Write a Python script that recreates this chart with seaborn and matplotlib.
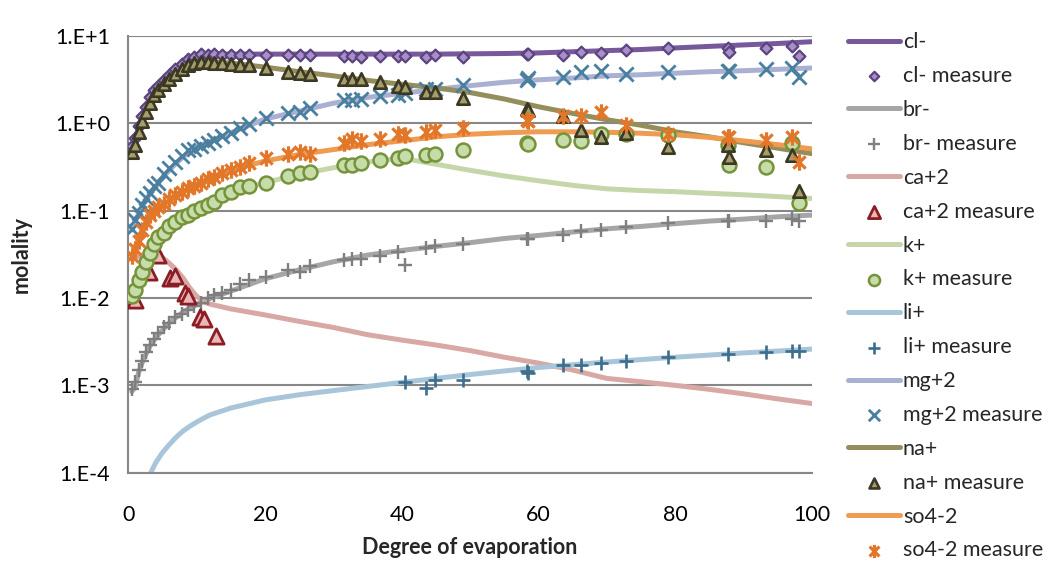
import numpy as np
import matplotlib
matplotlib.use("Agg")
import matplotlib.pyplot as plt
from matplotlib.path import Path
from matplotlib.ticker import FixedLocator, FuncFormatter, NullLocator
import seaborn as sns

# ---------------------------------------------------------------------------
# Model curves (molality vs. degree of evaporation), shared x grid
# ---------------------------------------------------------------------------
model_x = [0.5, 1, 1.5, 2, 3, 4, 5, 6, 7, 8, 9, 10, 11, 12, 15, 20, 25, 30,
           35, 40, 45, 50, 55, 60, 65, 70, 75, 80, 85, 90, 95, 100]

cl_model = [0.52, 0.65, 0.9, 1.2, 1.8, 2.5, 3.0, 3.6, 4.2, 4.9, 5.5, 6.0, 6.2, 6.2,
            6.2, 6.2, 6.2, 6.2, 6.2, 6.2, 6.2, 6.25, 6.3, 6.4, 6.6, 6.8, 7.0, 7.3,
            7.6, 7.9, 8.2, 8.6]
br_model = [8.5e-4, 9.5e-4, 1.4e-3, 1.8e-3, 2.7e-3, 3.5e-3, 4.3e-3, 5.2e-3, 6.0e-3,
            6.9e-3, 7.7e-3, 8.4e-3, 9.2e-3, 9.9e-3, 0.012, 0.0166, 0.021, 0.026,
            0.031, 0.035, 0.039, 0.043, 0.048, 0.052, 0.057, 0.062, 0.066, 0.071,
            0.076, 0.080, 0.085, 0.089]
ca_model = [0.028, 0.029, 0.030, 0.031, 0.032, 0.032, 0.029, 0.025, 0.021, 0.017,
            0.013, 0.0105, 0.009, 0.0085, 0.0075, 0.0064, 0.0054, 0.0046, 0.0038,
            0.0033, 0.0029, 0.0025, 0.0021, 0.0018, 0.0015, 0.0012, 0.0011, 0.0010,
            0.0009, 0.0008, 0.0007, 0.00062]
k_model = [0.0105, 0.013, 0.016, 0.020, 0.030, 0.043, 0.054, 0.065, 0.075, 0.085,
           0.095, 0.105, 0.115, 0.128, 0.16, 0.21, 0.26, 0.31, 0.36, 0.40, 0.34,
           0.29, 0.25, 0.22, 0.195, 0.178, 0.17, 0.165, 0.158, 0.152, 0.145, 0.138]
li_model = [np.nan, np.nan, np.nan, np.nan, 9e-5, 1.3e-4, 1.7e-4, 2.1e-4, 2.55e-4,
            3.0e-4, 3.4e-4, 3.8e-4, 4.2e-4, 4.6e-4, 5.5e-4, 6.8e-4, 7.8e-4, 8.7e-4,
            9.7e-4, 1.08e-3, 1.2e-3, 1.33e-3, 1.46e-3, 1.6e-3, 1.72e-3, 1.85e-3,
            1.97e-3, 2.1e-3, 2.22e-3, 2.35e-3, 2.47e-3, 2.6e-3]
mg_model = [0.06, 0.075, 0.092, 0.11, 0.15, 0.19, 0.24, 0.29, 0.35, 0.41, 0.48, 0.53,
            0.58, 0.62, 0.78, 1.12, 1.38, 1.7, 1.98, 2.2, 2.45, 2.7, 2.95, 3.15, 3.3,
            3.5, 3.6, 3.75, 3.9, 4.0, 4.15, 4.3]
na_model = [0.47, 0.6, 0.82, 1.05, 1.6, 2.2, 2.7, 3.2, 3.8, 4.3, 4.7, 5.0, 5.1, 5.1,
            4.9, 4.4, 3.9, 3.5, 3.1, 2.8, 2.55, 2.25, 1.9, 1.55, 1.3, 1.1, 0.95, 0.8,
            0.7, 0.6, 0.52, 0.45]
so4_model = [0.030, 0.038, 0.048, 0.060, 0.082, 0.100, 0.115, 0.13, 0.145, 0.165,
             0.18, 0.20, 0.22, 0.24, 0.29, 0.37, 0.44, 0.50, 0.57, 0.63, 0.70, 0.75,
             0.78, 0.80, 0.80, 0.79, 0.77, 0.74, 0.69, 0.63, 0.57, 0.51]

# ---------------------------------------------------------------------------
# Measured samples
# ---------------------------------------------------------------------------
meas_x = [0.5, 1.0, 1.5, 2.0, 2.6, 3.2, 3.8, 4.4, 5.2, 6.0, 6.9, 7.8, 8.7, 9.6,
          10.6, 11.6, 12.6, 13.7, 15.0, 16.4, 17.6, 20.2, 23.4, 25.1, 26.6,
          31.5, 32.8, 34.0, 36.8, 39.5, 40.5, 43.6, 44.9, 48.9, 58.3, 58.5, 63.6,
          66.2, 69.2, 72.8, 78.9, 87.7, 87.9, 93.3, 97.1, 98.2]

cl_meas = [0.55, 0.68, 0.92, 1.2, 1.55, 2.0, 2.4, 2.7, 3.1, 3.6, 4.2, 4.8, 5.4, 5.8,
           6.2, 6.1, 6.2, 6.1, 6.0, 6.0, 6.0, 6.0, 6.1, 6.0, 6.0,
           5.9, 5.9, 5.8, 5.9, 5.9, 5.9, 5.8, 6.1, 5.8, 6.3, 6.2, 6.1, 6.6, 6.4,
           7.0, 7.2, 7.2, 6.6, 7.2, 7.7, 5.9]
br_meas = [9e-4, 1.1e-3, 1.5e-3, 1.9e-3, 2.4e-3, 2.9e-3, 3.4e-3, 4.0e-3, 4.6e-3,
           5.2e-3, 6.1e-3, 6.6e-3, 7.2e-3, 8.0e-3, 8.8e-3, 9.9e-3, 0.0107, 0.0115,
           0.0125, 0.0145, 0.016, 0.0173, 0.021, 0.020, 0.023,
           0.027, 0.028, 0.028, 0.030, 0.034, 0.024, 0.037, 0.039, 0.041, 0.048,
           0.048, 0.052, 0.058, 0.060, 0.065, 0.072, 0.077, 0.077, 0.077, 0.081,
           0.077]
k_meas = [0.0105, 0.0125, 0.016, 0.020, 0.026, 0.033, 0.042, 0.050, 0.056, 0.066,
          0.075, 0.085, 0.090, 0.100, 0.107, 0.115, 0.125, 0.150, 0.165, 0.185,
          0.19, 0.205, 0.25, 0.27, 0.28,
          0.33, 0.33, 0.35, 0.38, 0.40, 0.42, 0.43, 0.45, 0.49, 0.59, 0.58, 0.64,
          0.62, 0.76, 0.76, 0.73, 0.56, 0.33, 0.32, 0.59, 0.123]
mg_meas = [0.062, 0.078, 0.095, 0.115, 0.14, 0.16, 0.19, 0.21, 0.26, 0.31, 0.36,
           0.42, 0.49, 0.51, 0.55, 0.60, 0.64, 0.72, 0.78, 0.88, 0.98, 1.15, 1.3,
           1.35, 1.48,
           1.85, 1.85, 1.9, 2.05, 2.1, 2.2, 2.5, 2.5, 2.75, 3.1, 3.3, 3.4, 3.9, 4.0,
           3.7, 3.9, 4.0, 4.0, 4.15, 4.3, 3.4]
na_meas = [0.47, 0.57, 0.8, 1.05, 1.35, 1.7, 2.1, 2.4, 2.8, 3.2, 3.7, 4.2, 4.6, 4.9,
           5.1, 5.0, 4.9, 4.9, 4.8, 4.7, 4.6, 4.3, 3.9, 3.8, 3.7,
           3.2, 3.2, 3.2, 3.0, 2.7, 2.6, 2.3, 2.3, 1.94, 1.46, 1.42, 1.2, 0.84, 0.70,
           0.77, 0.54, 0.56, 0.41, 0.49, 0.43, 0.166]
so4_meas = [0.030, 0.036, 0.045, 0.060, 0.075, 0.090, 0.100, 0.110, 0.120, 0.135,
            0.150, 0.165, 0.180, 0.190, 0.21, 0.23, 0.245, 0.27, 0.29, 0.32, 0.35,
            0.40, 0.45, 0.47, 0.45,
            0.59, 0.67, 0.62, 0.67, 0.76, 0.73, 0.80, 0.84, 0.89, 1.1, 1.05, 1.2,
            1.2, 1.36, 0.96, 0.76, 0.70, 0.70, 0.64, 0.70, 0.36]

ca_meas_x = [1.0, 3.0, 4.4, 6.1, 6.8, 8.3, 8.8, 10.5, 11.0, 12.9]
ca_meas = [0.0096, 0.020, 0.031, 0.017, 0.0178, 0.0115, 0.0105, 0.0061, 0.0057,
           0.0037]
li_meas_x = [40.5, 43.6, 44.9, 48.9, 58.3, 58.5, 63.6, 66.2, 69.2, 72.8, 78.9, 87.8,
             93.3, 97.1, 98.2]
li_meas = [1.1e-3, 9.4e-4, 1.16e-3, 1.16e-3, 1.47e-3, 1.4e-3, 1.7e-3, 1.72e-3,
           1.8e-3, 1.9e-3, 2.1e-3, 2.3e-3, 2.4e-3, 2.5e-3, 2.5e-3]

y_ticks = [1e-4, 1e-3, 1e-2, 1e-1, 1e0, 1e1]
y_tick_labels = ["1.E-4", "1.E-3", "1.E-2", "1.E-1", "1.E+0", "1.E+1"]
x_ticks = [0, 20, 40, 60, 80, 100]

# ---------------------------------------------------------------------------
# Style
# ---------------------------------------------------------------------------
sns.set_style("white")
plt.rcParams["font.family"] = ["Lato", "DejaVu Sans"]
FS = 15.5
AXIS_GREY = "#878787"

# star marker: vertical bar plus two diagonals
star = Path([(0, -1), (0, 1), (-0.75, -0.75), (0.75, 0.75), (-0.75, 0.75), (0.75, -0.75)],
            [Path.MOVETO, Path.LINETO, Path.MOVETO, Path.LINETO, Path.MOVETO, Path.LINETO])

series = [
    # label, model values, line colour, meas x, meas y, marker kwargs
    ("cl-", cl_model, "#77599b", meas_x, cl_meas,
     dict(marker="D", s=36, color="#a88fc8", edgecolor="#5b4480", linewidth=1.6)),
    ("br-", br_model, "#a6a6a6", meas_x, br_meas,
     dict(marker="+", s=100, color="#7f7f7f", linewidth=1.7)),
    ("ca+2", ca_model, "#d8a8a4", ca_meas_x, ca_meas,
     dict(marker="^", s=120, color="#eab9b7", edgecolor="#8c1d25", linewidth=2.0)),
    ("k+", k_model, "#c5d7aa", meas_x, k_meas,
     dict(marker="o", s=100, color="#c6dca9", edgecolor="#76933c", linewidth=1.8)),
    ("li+", li_model, "#a9c5da", li_meas_x, li_meas,
     dict(marker="+", s=100, color="#3d6e8e", linewidth=1.9)),
    ("mg+2", mg_model, "#aab0d2", meas_x, mg_meas,
     dict(marker="x", s=105, color="#4a7f9f", linewidth=2.0)),
    ("na+", na_model, "#948e5c", meas_x, na_meas,
     dict(marker="^", s=80, color="#a59e6a", edgecolor="#3b3823", linewidth=1.9)),
    ("so4-2", so4_model, "#ef9b50", meas_x, so4_meas,
     dict(marker=star, s=140, color="#e2772a", edgecolor="#e2772a", linewidth=2.3)),
]

fig = plt.figure(figsize=(10.52, 5.65), dpi=100)
ax = fig.add_axes([0.122, 0.1634, 0.6496, 0.7729])

handles, labels = [], []
for name, model_vals, line_col, mx, my, mkw in series:
    sns.lineplot(x=model_x, y=model_vals, ax=ax, color=line_col, linewidth=3.6,
                 solid_capstyle="round", label=name, legend=False)
    handles.append(ax.lines[-1])
    labels.append(name)
    sns.scatterplot(x=mx, y=my, ax=ax, label=f"{name} measure", legend=False,
                    zorder=3, **mkw)
    handles.append(ax.collections[-1])
    labels.append(f"{name} measure")

ax.set_yscale("log")
ax.set_xlim(0, 100)
ax.set_ylim(1e-4, 1e1)

ax.yaxis.set_major_locator(FixedLocator(y_ticks))
ax.yaxis.set_major_formatter(FuncFormatter(lambda v, pos: y_tick_labels[y_ticks.index(v)]
                                           if v in y_ticks else ""))
ax.yaxis.set_minor_locator(NullLocator())
ax.xaxis.set_major_locator(FixedLocator(x_ticks))

ax.grid(axis="y", color=AXIS_GREY, linewidth=1.5)
ax.grid(axis="x", visible=False)
ax.set_axisbelow(True)
for side in ("top", "right"):
    ax.spines[side].set_visible(False)
for side in ("left", "bottom"):
    ax.spines[side].set_color(AXIS_GREY)
    ax.spines[side].set_linewidth(1.5)

ax.tick_params(axis="both", which="major", direction="out", length=5, width=1.5,
               color=AXIS_GREY, labelsize=FS, labelcolor="black")
ax.tick_params(axis="y", pad=8)
ax.tick_params(axis="x", pad=18)

ax.set_xlabel("Degree of evaporation", fontsize=FS, fontweight="bold", va="center")
ax.set_ylabel("molality", fontsize=FS, fontweight="bold", va="center")
ax.xaxis.set_label_coords(0.5, -0.172)
ax.yaxis.set_label_coords(-0.156, 0.5)

leg = fig.legend(handles, labels, loc="upper left", bbox_to_anchor=(0.806, 0.943),
                 frameon=False, fontsize=FS, handlelength=2.4, handletextpad=0.15,
                 labelspacing=0.645, borderpad=0, borderaxespad=0, scatterpoints=1,
                 markerscale=0.8)

fig.savefig("out.png", dpi=100)
